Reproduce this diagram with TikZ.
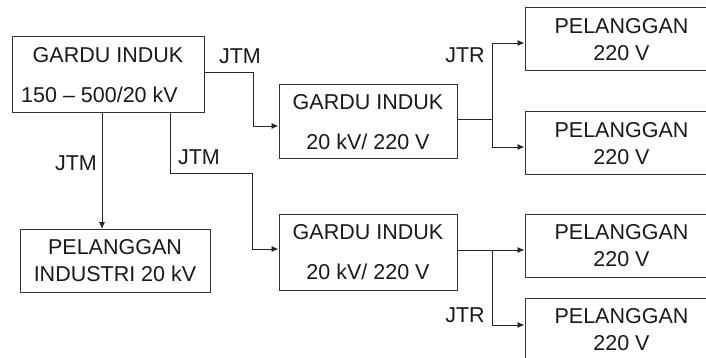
\documentclass[tikz,border=0pt]{standalone}
\usepackage{fontspec}
\setmainfont{Liberation Sans}
\usetikzlibrary{arrows.meta}
\begin{document}
\begin{tikzpicture}[x=1pt,y=-1pt,
  every node/.style={font=\fontsize{21.5}{25}\selectfont, text=black!90},
  gardu/.style={draw=black!80, line width=1pt, align=center, inner sep=0pt,
    minimum width=#1, font=\fontsize{21.5}{40}\selectfont},
  plg/.style={draw=black!80, line width=1pt, align=center, inner sep=0pt,
    minimum width=193pt, minimum height=63pt, font=\fontsize{21.5}{27.5}\selectfont},
  lbl/.style={inner sep=0pt},
  wire/.style={draw=black!85, line width=0.9pt},
  arr/.style={wire, -{Latex[length=7pt,width=6pt]}}
]
\useasboundingbox (0,0) rectangle (706,358);
\clip (0,0) rectangle (706,358);

% boxes
\node[gardu=192pt, minimum height=76pt] (b1) at (108,75) {GARDU INDUK\\150 -- 500/20 kV\hspace*{17pt}};
\node[gardu=178pt, minimum height=74pt] (b2) at (368,122) {GARDU INDUK\\20 kV/ 220 V};
\node[gardu=178pt, minimum height=76pt] (b3) at (368,252) {GARDU INDUK\\20 kV/ 220 V};
\node[plg, minimum width=190pt] (ind) at (115,260.5) {PELANGGAN\\INDUSTRI 20 kV};
\node[plg] (r1) at (621.5,39.5) {PELANGGAN\\220 V};
\node[plg] (r2) at (621.5,143.5) {PELANGGAN\\220 V};
\node[plg] (r3) at (621.5,245.5) {PELANGGAN\\220 V};
\node[plg] (r4) at (621.5,329.5) {PELANGGAN\\220 V};

% labels
\node[lbl] (l1) at (240,56) {JTM};
\node[lbl] (l2) at (76,163) {JTM};
\node[lbl] (l3) at (199,157) {JTM};
\node[lbl] (l4) at (465,55) {JTR};
\node[lbl] (l5) at (465,315) {JTR};

% junctions
\coordinate (j1) at (492,119);
\coordinate (j2) at (492,250);

% connectors
\draw[arr] ([yshift=3pt]b1.east) -| (253,126) -- (b2.west |- 0,126);
\draw[arr] (170,113) |- (252,173) |- (b3.west |- 0,249);
\draw[arr] (102,113) -- (102,229);
\draw[wire] ([yshift=3pt]b2.east) -- (j1);
\draw[arr] (j1) |- (r1.west |- 0,43);
\draw[arr] (j1) |- (r2.west |- 0,147);
\draw[wire] ([yshift=2pt]b3.east) -- (j2);
\draw[arr] (j2) -- (r3.west |- j2);
\draw[arr] (j2) |- (r4.west |- 0,325);
\end{tikzpicture}
\end{document}
